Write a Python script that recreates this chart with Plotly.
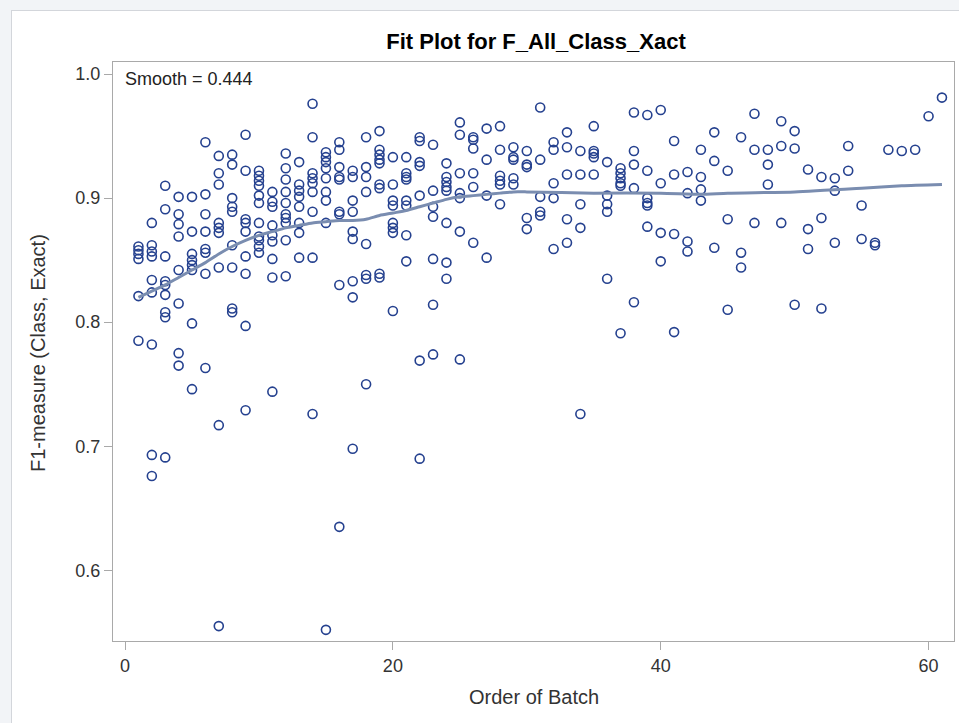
import numpy as np
import plotly.graph_objects as go

# F1-measure (Class, Exact) per document, grouped by batch order 1..61
points_per_batch = [6, 9, 9, 8, 8, 8, 9, 9, 9, 11,
                    9, 10, 8, 9, 9, 9, 9, 8, 9, 8,
                    8, 7, 7, 8, 7, 6, 4, 6, 5, 5,
                    5, 5, 5, 5, 5, 5, 6, 5, 6, 4,
                    4, 4, 4, 3, 3, 3, 3, 3, 3, 3,
                    3, 3, 3, 2, 2, 2, 1, 1, 1, 1, 1]

f1_measure = [
    0.861, 0.858, 0.855, 0.851, 0.821, 0.785,                              # 1
    0.880, 0.862, 0.857, 0.853, 0.834, 0.824, 0.782, 0.693, 0.676,         # 2
    0.910, 0.891, 0.853, 0.833, 0.830, 0.822, 0.808, 0.804, 0.691,         # 3
    0.901, 0.887, 0.879, 0.869, 0.842, 0.815, 0.775, 0.765,                # 4
    0.901, 0.873, 0.855, 0.850, 0.846, 0.842, 0.799, 0.746,                # 5
    0.945, 0.903, 0.887, 0.873, 0.859, 0.856, 0.839, 0.763,                # 6
    0.934, 0.920, 0.911, 0.880, 0.876, 0.872, 0.844, 0.717, 0.555,         # 7
    0.935, 0.927, 0.900, 0.893, 0.889, 0.862, 0.844, 0.811, 0.808,         # 8
    0.951, 0.922, 0.883, 0.880, 0.873, 0.853, 0.839, 0.797, 0.729,         # 9
    0.922, 0.918, 0.914, 0.910, 0.902, 0.896, 0.880, 0.869, 0.866, 0.861, 0.856,  # 10
    0.905, 0.897, 0.893, 0.878, 0.870, 0.865, 0.851, 0.836, 0.744,         # 11
    0.936, 0.924, 0.915, 0.905, 0.896, 0.887, 0.884, 0.880, 0.866, 0.837,  # 12
    0.929, 0.911, 0.906, 0.901, 0.893, 0.880, 0.872, 0.852,                # 13
    0.976, 0.949, 0.920, 0.916, 0.912, 0.905, 0.889, 0.852, 0.726,         # 14
    0.937, 0.933, 0.929, 0.924, 0.916, 0.905, 0.898, 0.880, 0.552,         # 15
    0.945, 0.939, 0.925, 0.917, 0.915, 0.889, 0.887, 0.830, 0.635,         # 16
    0.922, 0.917, 0.898, 0.889, 0.873, 0.867, 0.833, 0.820, 0.698,         # 17
    0.949, 0.925, 0.917, 0.905, 0.863, 0.838, 0.835, 0.750,                # 18
    0.954, 0.939, 0.935, 0.931, 0.928, 0.911, 0.908, 0.839, 0.836,         # 19
    0.933, 0.911, 0.898, 0.894, 0.880, 0.876, 0.872, 0.809,                # 20
    0.933, 0.920, 0.917, 0.915, 0.898, 0.894, 0.870, 0.849,                # 21
    0.949, 0.946, 0.929, 0.926, 0.902, 0.769, 0.690,                       # 22
    0.943, 0.906, 0.893, 0.885, 0.851, 0.814, 0.774,                       # 23
    0.928, 0.917, 0.913, 0.909, 0.906, 0.880, 0.848, 0.835,                # 24
    0.961, 0.951, 0.920, 0.904, 0.900, 0.873, 0.770,                       # 25
    0.949, 0.947, 0.940, 0.920, 0.909, 0.864,                              # 26
    0.956, 0.931, 0.902, 0.852,                                            # 27
    0.958, 0.939, 0.918, 0.914, 0.911, 0.895,                              # 28
    0.941, 0.933, 0.931, 0.916, 0.911,                                     # 29
    0.938, 0.927, 0.925, 0.884, 0.875,                                     # 30
    0.973, 0.931, 0.901, 0.889, 0.886,                                     # 31
    0.945, 0.939, 0.912, 0.900, 0.859,                                     # 32
    0.953, 0.941, 0.919, 0.883, 0.864,                                     # 33
    0.938, 0.919, 0.895, 0.876, 0.726,                                     # 34
    0.958, 0.938, 0.936, 0.933, 0.919,                                     # 35
    0.929, 0.902, 0.895, 0.889, 0.835,                                     # 36
    0.924, 0.920, 0.916, 0.912, 0.910, 0.791,                              # 37
    0.969, 0.938, 0.927, 0.908, 0.816,                                     # 38
    0.967, 0.922, 0.900, 0.896, 0.894, 0.877,                              # 39
    0.971, 0.912, 0.872, 0.849,                                            # 40
    0.946, 0.919, 0.871, 0.792,                                            # 41
    0.921, 0.904, 0.865, 0.857,                                            # 42
    0.939, 0.917, 0.907, 0.898,                                            # 43
    0.953, 0.930, 0.860,                                                   # 44
    0.922, 0.883, 0.810,                                                   # 45
    0.949, 0.856, 0.844,                                                   # 46
    0.968, 0.939, 0.880,                                                   # 47
    0.939, 0.927, 0.911,                                                   # 48
    0.962, 0.942, 0.880,                                                   # 49
    0.954, 0.940, 0.814,                                                   # 50
    0.923, 0.875, 0.859,                                                   # 51
    0.917, 0.884, 0.811,                                                   # 52
    0.916, 0.906, 0.864,                                                   # 53
    0.942, 0.922,                                                          # 54
    0.894, 0.867,                                                          # 55
    0.864, 0.862,                                                          # 56
    0.939,                                                                 # 57
    0.938,                                                                 # 58
    0.939,                                                                 # 59
    0.966,                                                                 # 60
    0.981,                                                                 # 61
]

# Loess fit (smoothing parameter 0.444)
smooth_x = [1, 2, 3, 4, 5, 6, 7, 8, 9, 10, 11, 12, 13, 14, 15, 16, 17, 18,
            19, 20, 21, 22, 23, 24, 25, 26, 27, 28, 29, 30, 35, 40, 43, 45,
            50, 55, 58, 61]
smooth_y = [0.820, 0.825, 0.830, 0.836, 0.842, 0.848, 0.855, 0.861, 0.866,
            0.870, 0.873, 0.876, 0.878, 0.880, 0.881, 0.882, 0.882, 0.883,
            0.886, 0.888, 0.890, 0.893, 0.896, 0.899, 0.901, 0.902, 0.903,
            0.904, 0.905, 0.905, 0.904, 0.904, 0.903, 0.904, 0.905, 0.908,
            0.910, 0.911]

x_ticks = [0, 20, 40, 60]
y_ticks = [0.6, 0.7, 0.8, 0.9, 1.0]
y_tick_text = ["0.6", "0.7", "0.8", "0.9", "1.0"]

batches = np.arange(1, len(points_per_batch) + 1)
batch_order = np.repeat(batches, points_per_batch)
assert len(batch_order) == len(f1_measure)

FONT = "Liberation Sans, Arial, sans-serif"
W, H = 959, 723
L, R, T, B = 113, 5, 62, 82
PW, PH = W - L - R, H - T - B


def px_x(p):
    return (p - L) / PW


def px_y(p):
    return (H - B - p) / PH


fig = go.Figure()
fig.add_trace(go.Scatter(
    x=batch_order, y=f1_measure, mode="markers",
    marker=dict(symbol="circle-open", size=9, color="#25418f",
                line=dict(width=1.6)),
    hoverinfo="x+y", showlegend=False,
))
fig.add_trace(go.Scatter(
    x=smooth_x, y=smooth_y, mode="lines",
    line=dict(color="#7a8db0", width=3, shape="spline", smoothing=0.6),
    hoverinfo="skip", showlegend=False,
))

axis_common = dict(
    showgrid=False, zeroline=False, showline=True, mirror=True,
    linecolor="#a9a9a9", linewidth=1,
    ticks="outside", ticklen=8, tickwidth=1, tickcolor="#a9a9a9",
    tickfont=dict(family=FONT, size=18, color="#333333"),
)

fig.update_layout(
    width=W, height=H,
    margin=dict(l=L, r=R, t=T, b=B),
    paper_bgcolor="white", plot_bgcolor="white",
    font=dict(family=FONT),
    title=dict(text="<b>Fit Plot for F_All_Class_Xact</b>",
               font=dict(family=FONT, size=22, color="#000000"),
               x=px_x(536), xref="paper", xanchor="center",
               y=1 - 41 / H, yref="container", yanchor="middle"),
    xaxis=dict(range=[-0.9, 61.9], tickvals=x_ticks, **axis_common),
    yaxis=dict(range=[0.543, 1.0097], tickvals=y_ticks, ticktext=y_tick_text,
               **axis_common),
    showlegend=False,
)

# light page strip and panel border around the graph
page_gray = "#f2f4f7"
fig.add_shape(type="rect", xref="paper", yref="paper", layer="below",
              x0=px_x(-5), x1=px_x(11), y0=px_y(H + 5), y1=px_y(-5),
              fillcolor=page_gray, line_width=0)
fig.add_shape(type="rect", xref="paper", yref="paper", layer="below",
              x0=px_x(-5), x1=px_x(W + 5), y0=px_y(10), y1=px_y(-5),
              fillcolor=page_gray, line_width=0)
fig.add_shape(type="line", xref="paper", yref="paper",
              x0=px_x(11.5), x1=px_x(11.5), y0=px_y(H + 5), y1=px_y(10),
              line=dict(color="#d3d6db", width=1))
fig.add_shape(type="line", xref="paper", yref="paper",
              x0=px_x(11), x1=px_x(W + 5), y0=px_y(10.5), y1=px_y(10.5),
              line=dict(color="#d3d6db", width=1))

fig.add_annotation(text="Smooth = 0.444", xref="paper", yref="paper",
                   x=px_x(123), y=px_y(79), xanchor="left", yanchor="middle",
                   showarrow=False,
                   font=dict(family=FONT, size=18, color="#222222"))
fig.add_annotation(text="Order of Batch", xref="paper", yref="paper",
                   x=px_x(534), y=px_y(697), xanchor="center",
                   yanchor="middle", showarrow=False,
                   font=dict(family=FONT, size=20, color="#333333"))
fig.add_annotation(text="F1-measure (Class, Exact)", xref="paper",
                   yref="paper", x=px_x(38), y=px_y(353), textangle=-90,
                   xanchor="center", yanchor="middle", showarrow=False,
                   font=dict(family=FONT, size=20, color="#333333"))

fig.write_html("out.html")
